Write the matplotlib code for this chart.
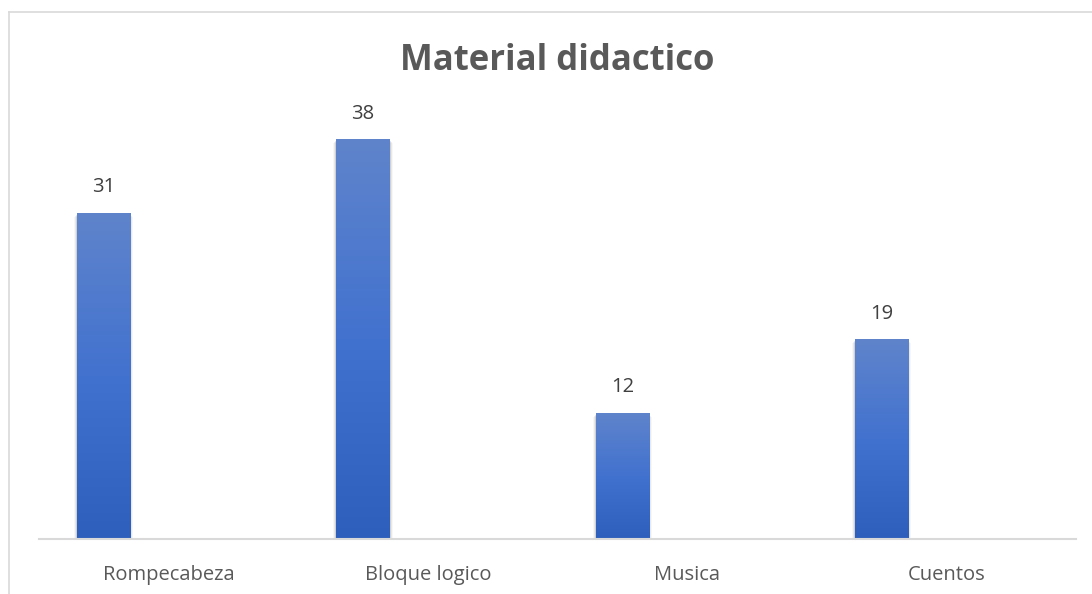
import numpy as np
import matplotlib
matplotlib.use('Agg')
import matplotlib.pyplot as plt
from matplotlib.colors import LinearSegmentedColormap
from matplotlib.lines import Line2D

categories = ['Rompecabeza', 'Bloque logico', 'Musica', 'Cuentos']
values = [31, 38, 12, 19]

plt.rcParams['font.family'] = ['Open Sans', 'DejaVu Sans']

fig = plt.figure(figsize=(10.92, 5.94), dpi=100)
W, H = 1092, 594

# chart frame (left and top edges visible)
fig.add_artist(Line2D([9 / W, 9 / W], [0, 1 - 12 / H], color='#d9d9d9', lw=1.2))
fig.add_artist(Line2D([9 / W, 1], [1 - 12 / H, 1 - 12 / H], color='#d9d9d9', lw=1.2))

ax = fig.add_axes([39 / W, 55 / H, (1076 - 39) / W, 421 / H])
ax.set_xlim(-0.5, len(categories) - 0.5)
ax.set_ylim(0, 40)

grad = LinearSegmentedColormap.from_list('bar', ['#2e5fbc', '#4272cf', '#5f84cb'])
bar_w = 0.205
offset = -0.25
for i, v in enumerate(values):
    x0 = i + offset - bar_w / 2
    # soft shadow
    for k, a in enumerate([0.10, 0.06, 0.03]):
        d = 0.004 * (k + 1)
        ax.add_patch(plt.Rectangle((x0 - d, -0.3 - 0.1 * k), bar_w + 2 * d, v + 0.1,
                                   color='#000000', alpha=a, lw=0, zorder=1))
    rect = plt.Rectangle((x0, 0), bar_w, v, facecolor='none', edgecolor='none', zorder=3)
    ax.add_patch(rect)
    img = ax.imshow(np.linspace(0, 1, 256).reshape(-1, 1), cmap=grad, aspect='auto',
                    extent=[x0, x0 + bar_w, 0, v], origin='lower', zorder=2)
    img.set_clip_path(rect)
    ax.text(i + offset, v + 2.4, str(v), ha='center', va='center',
            fontsize=14.5, color='#404040')

ax.set_xticks(range(len(categories)))
ax.set_xticklabels(categories, fontsize=14.5, color='#595959')
ax.tick_params(axis='x', length=0, pad=19)
ax.set_yticks([])
for s in ['top', 'right', 'left']:
    ax.spines[s].set_visible(False)
ax.spines['bottom'].set_color('#d9d9d9')
ax.spines['bottom'].set_linewidth(1.5)
ax.spines['bottom'].set_zorder(4)

fig.text(557 / W, 1 - 61 / H, 'Material didactico', ha='center', va='center',
         fontsize=25, fontweight='bold', color='#595959')

fig.savefig('out.png', dpi=100)
